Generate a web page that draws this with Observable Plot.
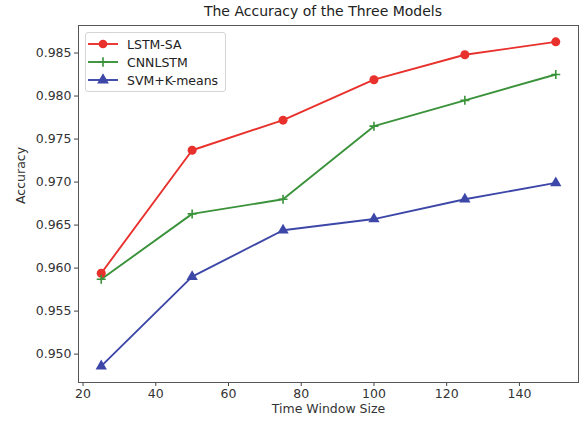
<!DOCTYPE html>
<html>
<head>
<meta charset="utf-8">
<script src="https://cdn.jsdelivr.net/npm/d3@7"></script>
<script src="https://cdn.jsdelivr.net/npm/@observablehq/plot@0.6"></script>
<style>
  body { margin: 0; background: #fff; font-family: "DejaVu Sans", sans-serif; }
  #wrap { position: relative; width: 584px; height: 424px; }
  #title { height: 20px; text-align: center; font-size: 14px; line-height: 22px; color: #222; padding-left: 62px; box-sizing: border-box; }
  #legend { position: absolute; left: 85px; top: 32px; width: 141px; height: 60px; box-sizing: border-box;
            border: 1px solid #d4d4d4; border-radius: 3px; background: rgba(255,255,255,0.85); padding-top: 2px; }
  .row { height: 18px; display: flex; align-items: center; font-size: 12.5px; color: #222; }
  .row svg { margin-left: 2px; margin-right: 9px; }
</style>
</head>
<body>
<div id="wrap">
  <div id="title">The Accuracy of the Three Models</div>
  <div id="chart"></div>
  <div id="legend"></div>
</div>
<script>
const windowSizes = [25, 50, 75, 100, 125, 150];
const lstmSA = [0.9594, 0.9737, 0.9772, 0.9819, 0.9848, 0.9863];
const cnnLSTM = [0.9587, 0.9663, 0.9680, 0.9765, 0.9795, 0.9825];
const svmKmeans = [0.9486, 0.9590, 0.9644, 0.9657, 0.9680, 0.9699];
const seriesNames = ["LSTM-SA", "CNNLSTM", "SVM+K-means"];
const seriesColors = ["#e8302c", "#3a923a", "#3c47a8"];
const seriesSymbols = ["circle", "plus", "triangle"];
const xTicks = [20, 40, 60, 80, 100, 120, 140];
const yTicks = [0.950, 0.955, 0.960, 0.965, 0.970, 0.975, 0.980, 0.985];

const allSeries = [lstmSA, cnnLSTM, svmKmeans];
const data = [];
allSeries.forEach((vals, si) => vals.forEach((v, i) => data.push({series: seriesNames[si], x: windowSizes[i], y: v})));

const colorScale = {domain: seriesNames, range: seriesColors};

const plot = Plot.plot({
  width: 584,
  height: 404,
  marginLeft: 78,
  marginRight: 6,
  marginTop: 5,
  marginBottom: 42,
  style: {fontFamily: "DejaVu Sans, sans-serif", fontSize: "12.5px", color: "#333", background: "#fff"},
  x: {domain: [18.75, 156.25]},
  y: {domain: [0.9467, 0.9882]},
  color: colorScale,
  marks: [
    Plot.axisX({ticks: xTicks, tickSize: 4, tickPadding: 3, label: null, stroke: "#444"}),
    Plot.axisY({ticks: yTicks, tickSize: 4, tickPadding: 3, label: null, tickFormat: d3.format(".3f"), stroke: "#444"}),
    Plot.line(data, {x: "x", y: "y", z: "series", stroke: "series", strokeWidth: 1.9}),
    Plot.dot(data.filter(d => d.series === "LSTM-SA"), {x: "x", y: "y", fill: "series", r: 4.5, symbol: "circle"}),
    Plot.dot(data.filter(d => d.series === "CNNLSTM"), {x: "x", y: "y", stroke: "series", r: 3, strokeWidth: 1.6, symbol: "plus"}),
    Plot.dot(data.filter(d => d.series === "SVM+K-means"), {x: "x", y: "y", fill: "series", r: 4.2, symbol: "triangle"}),
    Plot.frame({stroke: "#555", strokeWidth: 1}),
    Plot.text(["Time Window Size"], {frameAnchor: "bottom", dy: 30, fontSize: 12.5, fill: "#333"}),
    Plot.text(["Accuracy"], {frameAnchor: "left", dx: -58, rotate: -90, fontSize: 12.5, fill: "#333"})
  ]
});
document.getElementById("chart").appendChild(plot);

const legend = document.getElementById("legend");
const sym = {circle: d3.symbolCircle, plus: d3.symbolPlus, triangle: d3.symbolTriangle};
seriesNames.forEach((name, i) => {
  const row = document.createElement("div");
  row.className = "row";
  const svg = d3.create("svg").attr("width", 30).attr("height", 18);
  svg.append("line").attr("x1", 0).attr("x2", 30).attr("y1", 9).attr("y2", 9).attr("stroke", seriesColors[i]).attr("stroke-width", 1.9);
  const s = seriesSymbols[i];
  const p = svg.append("path").attr("transform", "translate(15,9)")
    .attr("d", d3.symbol(sym[s], s === "plus" ? 30 : 60)());
  if (s === "plus") p.attr("fill", "none").attr("stroke", seriesColors[i]).attr("stroke-width", 1.6);
  else p.attr("fill", seriesColors[i]);
  row.appendChild(svg.node());
  const t = document.createElement("span");
  t.textContent = name;
  row.appendChild(t);
  legend.appendChild(row);
});
</script>
</body>
</html>
